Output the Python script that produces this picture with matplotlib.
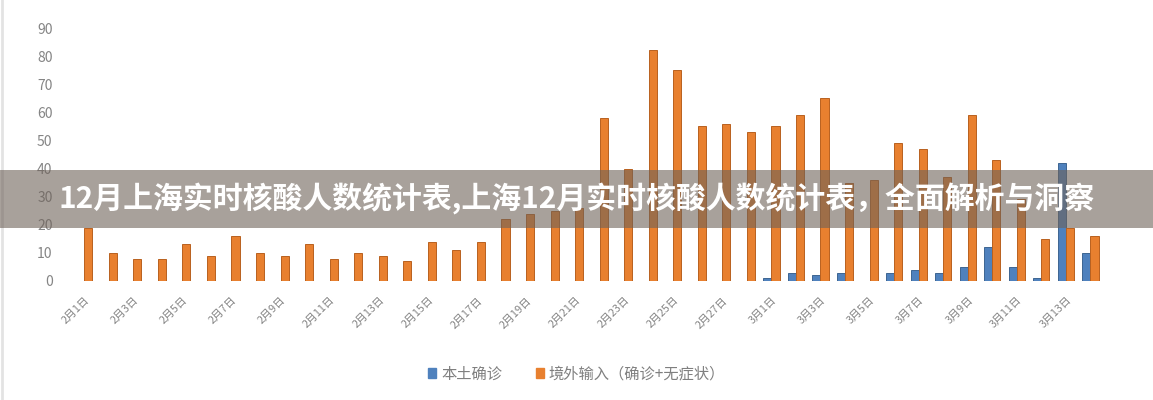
import numpy as np
import matplotlib
matplotlib.use("Agg")
import matplotlib.pyplot as plt
from matplotlib.patches import Rectangle, Patch
from matplotlib.lines import Line2D

plt.rcParams['font.family'] = ['Noto Sans CJK SC', 'DejaVu Sans']

# data
dates = ['2月1日', '2月2日', '2月3日', '2月4日', '2月5日', '2月6日', '2月7日',
         '2月8日', '2月9日', '2月10日', '2月11日', '2月12日', '2月13日', '2月14日',
         '2月15日', '2月16日', '2月17日', '2月18日', '2月19日', '2月20日', '2月21日',
         '2月22日', '2月23日', '2月24日', '2月25日', '2月26日', '2月27日', '2月28日',
         '3月1日', '3月2日', '3月3日', '3月4日', '3月5日', '3月6日', '3月7日',
         '3月8日', '3月9日', '3月10日', '3月11日', '3月12日', '3月13日', '3月14日']
local = [0, 0, 0, 0, 0, 0, 0, 0, 0, 0, 0, 0, 0, 0,
         0, 0, 0, 0, 0, 0, 0, 0, 0, 0, 0, 0, 0, 0,
         1, 3, 2, 3, 0, 3, 4, 3, 5, 12, 5, 1, 42, 10]
imported = [19, 10, 8, 8, 13, 9, 16, 10, 9, 13, 8, 10, 9, 7,
            14, 11, 14, 22, 24, 25, 26, 58, 40, 82, 75, 55, 56, 53,
            55, 59, 65, 35, 36, 49, 47, 37, 59, 43, 29, 15, 19, 16]
series_names = ['本土确诊', '境外输入（确诊+无症状）']
title = '12月上海实时核酸人数统计表,上海12月实时核酸人数统计表，全面解析与洞察'

blue = '#4f81bd'
orange = '#e8802f'
gray_txt = '#858585'

fig = plt.figure(figsize=(11.53, 4), dpi=100)
ax = fig.add_axes([0.0624, 0.2975, 0.894, 0.6325])

x = np.arange(len(dates))
w = 0.33
ax.bar(x - w / 2, local, width=w, color=blue, edgecolor='#3d6591', linewidth=0.7)
ax.bar(x + w / 2, imported, width=w, color=orange, edgecolor='#b9611f', linewidth=0.7)

ax.set_xlim(-0.5, len(dates) - 0.5)
ax.set_ylim(0, 90)
ax.set_yticks(range(0, 91, 10))
ax.tick_params(axis='y', length=0, pad=14, labelsize=10, labelcolor=gray_txt)
ax.set_xticks(x[::2])
ax.set_xticklabels(dates[::2], rotation=45, ha='right', va='top',
                   rotation_mode='anchor', fontsize=7.8, color=gray_txt)
ax.tick_params(axis='x', length=0, pad=10)
for s in ax.spines.values():
    s.set_visible(False)

handles = [Patch(facecolor=blue, edgecolor=blue), Patch(facecolor=orange, edgecolor=orange)]
fig.legend(handles, series_names, loc='center', bbox_to_anchor=(0.5, 0.065),
           ncol=2, frameon=False, fontsize=11, labelcolor='#7f7f7f',
           handlelength=0.55, handleheight=0.55, handletextpad=0.3, columnspacing=2.2)

# faint border on the left edge of the image
fig.add_artist(Line2D([0.002, 0.002], [0, 1], color='#e3e3e3', linewidth=2,
                      transform=fig.transFigure))

# semi-transparent title banner across the chart
fig.add_artist(Rectangle((0, 0.43), 1, 0.145, transform=fig.transFigure,
                         facecolor='#6e6259', alpha=0.6, edgecolor='none', zorder=5))
fig.text(0.5, 0.5025, title, ha='center', va='center', color='white',
         fontsize=21.5, fontweight='bold', zorder=6)

fig.savefig('out.png', dpi=100)
